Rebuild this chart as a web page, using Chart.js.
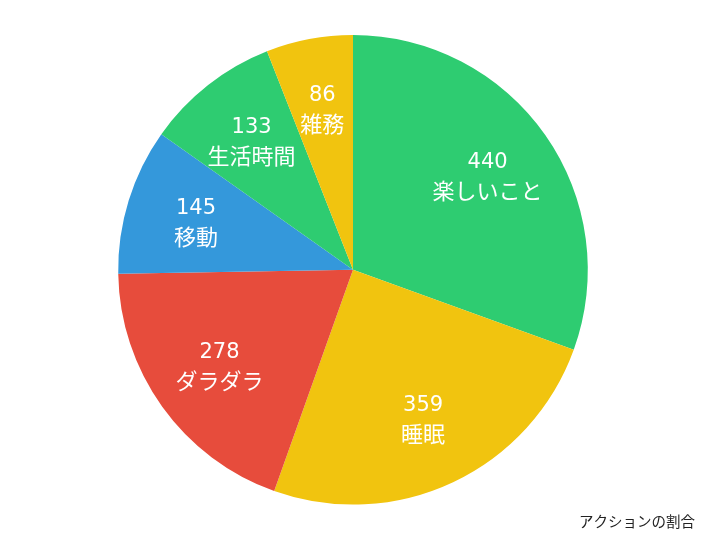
<!DOCTYPE html>
<html>
<head>
<meta charset="utf-8">
<script src="https://cdn.jsdelivr.net/npm/chart.js@4/dist/chart.umd.min.js"></script>
<style>
html,body{margin:0;padding:0;background:#fff;}
#wrap{width:706px;height:540px;}
</style>
</head>
<body>
<div id="wrap"><canvas id="c" width="706" height="540"></canvas></div>
<script>
const categories = ['楽しいこと', '睡眠', 'ダラダラ', '移動', '生活時間', '雑務'];
const values = [440, 359, 278, 145, 133, 86];
const colors = ['#2ecc71', '#f1c40f', '#e74c3c', '#3498db', '#2ecc71', '#f1c40f'];
const titleText = 'アクションの割合';

const labelPlugin = {
  id: 'sliceLabels',
  afterDatasetsDraw(chart) {
    const ctx = chart.ctx;
    const meta = chart.getDatasetMeta(0);
    ctx.save();
    ctx.fillStyle = '#ffffff';
    ctx.textAlign = 'center';
    ctx.textBaseline = 'middle';
    meta.data.forEach((arc, i) => {
      const p = arc.getProps(['x', 'y', 'startAngle', 'endAngle', 'outerRadius'], true);
      const mid = (p.startAngle + p.endAngle) / 2;
      const r = p.outerRadius * 0.7;
      const cx = p.x + Math.cos(mid) * r;
      const cy = p.y + Math.sin(mid) * r;
      ctx.font = '21px "DejaVu Sans", sans-serif';
      ctx.fillText(String(chart.data.datasets[0].data[i]), cx, cy - 13);
      ctx.font = '22px "Noto Sans CJK JP", "Noto Sans", sans-serif';
      ctx.fillText(chart.data.labels[i], cx, cy + 15);
    });
    ctx.restore();
  }
};

new Chart(document.getElementById('c'), {
  type: 'pie',
  data: {
    labels: categories,
    datasets: [{
      data: values,
      backgroundColor: colors,
      borderWidth: 0
    }]
  },
  options: {
    responsive: false,
    animation: false,
    devicePixelRatio: 1,
    layout: { padding: { top: 35, bottom: 0, left: 11, right: 11 } },
    plugins: {
      legend: { display: false },
      tooltip: { enabled: false },
      title: {
        display: true,
        text: titleText,
        position: 'bottom',
        align: 'end',
        color: '#222',
        font: { size: 14.5, weight: 'normal', family: '"Noto Sans CJK JP", sans-serif' },
        padding: { top: 8, bottom: 10 }
      }
    }
  },
  plugins: [labelPlugin]
});
</script>
</body>
</html>
